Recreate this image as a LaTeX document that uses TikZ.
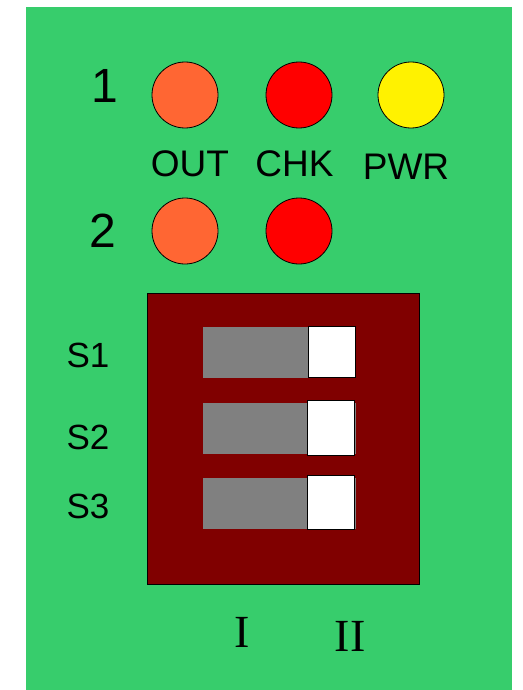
\documentclass[tikz,border=0pt]{standalone}
\usepackage{fontspec}
\setmainfont{Liberation Sans}
\newfontfamily\romfont{Liberation Serif}
\definecolor{board}{RGB}{55,205,108}
\definecolor{ledorange}{RGB}{255,102,51}
\definecolor{chipred}{RGB}{128,0,0}
\tikzset{
    led/.style={circle, draw=black, line width=0.8pt, minimum size=66pt, inner sep=0pt},
    lbl/.style={inner sep=0pt, font=\fontsize{37}{40}\selectfont},
    rowlbl/.style={inner sep=0pt, font=\fontsize{48}{50}\selectfont},
    poslbl/.style={inner sep=0pt, font=\romfont\fontsize{46}{48}\selectfont},
    track/.style={fill=gray, inner sep=0pt, minimum width=153pt, minimum height=51pt},
    knob/.style={fill=white, draw=black, line width=1pt, inner sep=0pt, minimum width=47pt}
}
\begin{document}
\begin{tikzpicture}[x=1pt, y=-1pt]
    \useasboundingbox (0,0) rectangle (522,690);
    \fill[white] (0,0) rectangle (522,690);
    \fill[board] (26,7) rectangle (512,690);

    % leds
    \node[rowlbl] (row1) at (105,86) {1};
    \node[rowlbl] (row2) at (102.5,231) {2};
    \foreach \n/\x/\c in {out/185/ledorange,chk/299/red,pwr/411/yellow}
        {\node[led, fill=\c] (led1\n) at (\x,95) {};}
    \foreach \n/\x/\c in {out/185/ledorange,chk/299/red}
        {\node[led, fill=\c] (led2\n) at (\x,231) {};}
    \foreach \n/\x/\y/\t in {out/190/163.5/OUT,chk/294.5/163.5/CHK,pwr/406/166.5/PWR}
        {\node[lbl] (name\n) at (\x,\y) {\t};}

    % dip switch
    \draw[fill=chipred, line width=0.8pt] (147,293) rectangle (419,584);
    \foreach \i/\y/\k/\ky/\kh/\s in {1/352.5/331.5/351.5/51/355,2/428.5/330.5/427.5/55/437,3/503.5/330.5/502/54/506}
        {\node[track] (track\i) at (279.5,\y) {};
         \node[knob, minimum height=\kh pt] (knob\i) at (\k,\ky) {};
         \node[lbl, font=\fontsize{35}{38}\selectfont] (sw\i) at (88,\s) {S\i};}
    \node[poslbl] (posI) at (242.5,632.5) {I};
    \node[poslbl] (posII) at (350,636) {II};
\end{tikzpicture}
\end{document}
